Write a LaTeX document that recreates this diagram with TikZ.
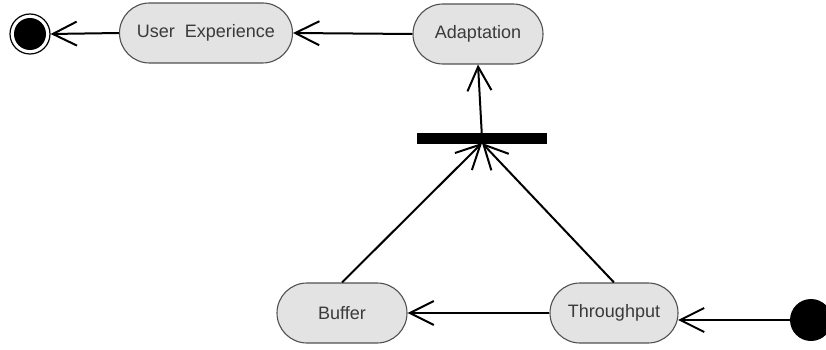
\documentclass[tikz,border=0pt]{standalone}
\usepackage{fontspec}
\setmainfont{Liberation Sans}
\usetikzlibrary{arrows.meta,shapes.misc}
\definecolor{statefill}{HTML}{E3E3E3}
\definecolor{stateline}{HTML}{505050}
\definecolor{statetext}{HTML}{3A3A3A}
\tikzset{
  state/.style={rounded rectangle, draw=stateline, line width=1.1pt, fill=statefill,
    minimum height=60pt, inner xsep=0pt, text=statetext, font=\fontsize{18}{21}\selectfont},
  flow/.style={line width=2pt, -{Straight Barb[length=24pt,width=24pt,line width=2pt]}},
  forkbar/.style={fill=black, minimum width=130pt, minimum height=11pt, inner sep=0pt},
}
\begin{document}
\begin{tikzpicture}[x=1pt,y=-1pt]
  \useasboundingbox (0,0) rectangle (826,350);
  % states
  \node[state, minimum width=173pt] (ux) at (206,33) {User\ \ Experience};
  \node[state, minimum width=130pt] (adapt) at (478,34) {Adaptation};
  \node[state, minimum width=130pt] (buffer) at (342,313) {Buffer};
  \node[state, minimum width=128pt] (tput) at (614,313) {Throughput};
  % join bar
  \node[forkbar] (join) at (482,138) {};
  % initial pseudo-state
  \node[circle, fill=black, minimum size=42pt, inner sep=0pt] (init) at (811,320) {};
  % final state
  \node[circle, draw=black, line width=1.2pt, fill=white, minimum size=40pt, inner sep=0pt] (final) at (30,34) {};
  \fill[black] (final.center) circle (16pt);
  % transitions
  \coordinate (tin) at (678,320);
  \draw[flow] (init.center) -- (tin);
  \draw[flow] (tput.west) -- (buffer.east);
  \coordinate (joinin) at (482,143);
  \draw[flow] (buffer.north) -- (joinin);
  \draw[flow] (tput.north) -- (joinin);
  \draw[flow] (join.center) -- (adapt.south);
  \draw[flow] (adapt.west) -- (ux.east);
  \draw[flow] (ux.west) -- (final.east);
\end{tikzpicture}
\end{document}
